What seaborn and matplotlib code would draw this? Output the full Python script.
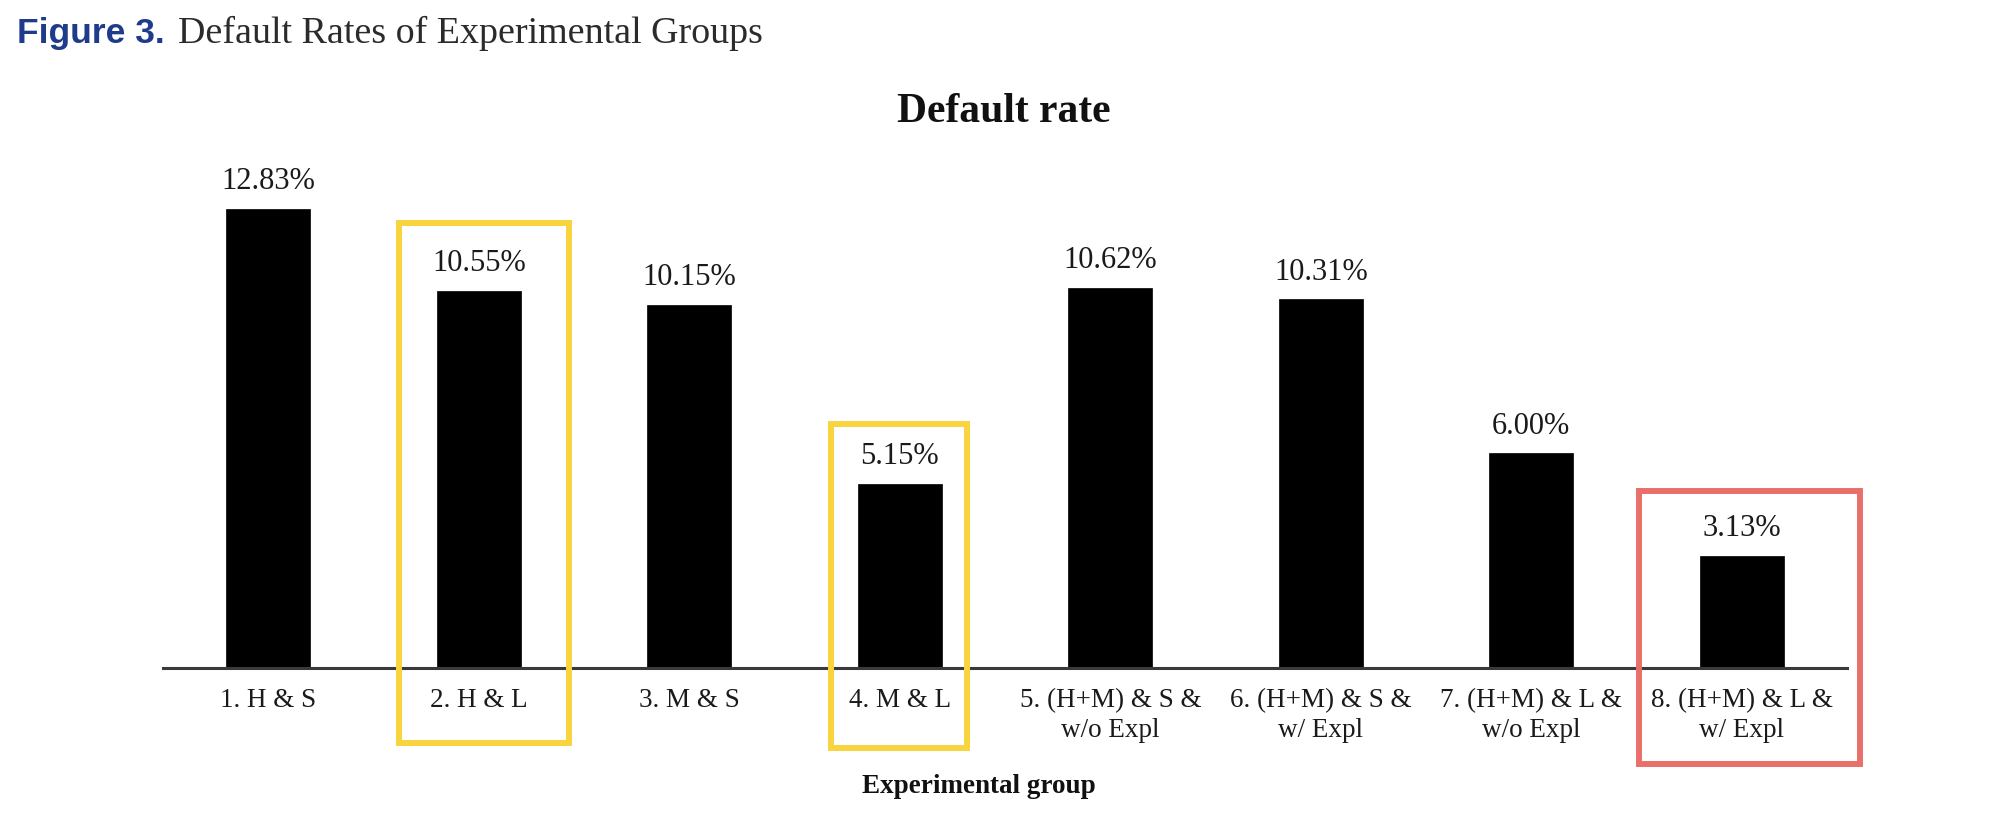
import matplotlib.pyplot as plt
import pandas as pd
import seaborn as sns
from matplotlib.patches import Rectangle

groups = [
    "1. H & S",
    "2. H & L",
    "3. M & S",
    "4. M & L",
    "5. (H+M) & S &\nw/o Expl",
    "6. (H+M) & S &\nw/ Expl",
    "7. (H+M) & L &\nw/o Expl",
    "8. (H+M) & L &\nw/ Expl",
]
default_rates = [12.83, 10.55, 10.15, 5.15, 10.62, 10.31, 6.00, 3.13]

# highlighted groups (index into groups) and box colour
yellow_groups = [1, 3]
red_groups = [7]

YELLOW = "#f8d43e"
RED = "#e9706a"
SERIF = ["Liberation Serif", "DejaVu Serif"]

frame = pd.DataFrame({"group": groups, "rate": default_rates})

sns.set_theme(style="white")
plt.rcParams["font.family"] = SERIF

fig = plt.figure(figsize=(20.02, 8.2), dpi=100)
ax = fig.add_axes([0.08142, 0.18415, 0.84116, 0.61037])

sns.barplot(data=frame, x="group", y="rate", order=groups, color="black",
            width=0.4, saturation=1, edgecolor="black", linewidth=0.5, ax=ax)

ax.set_xlim(-0.5, 7.5)
ax.set_ylim(0, 14)
ax.set_yticks([])
ax.set_ylabel("")
ax.set_xlabel("")
for side in ("top", "right", "left"):
    ax.spines[side].set_visible(False)
ax.spines["bottom"].set_color("#3a3a3a")
ax.spines["bottom"].set_linewidth(2.2)
ax.tick_params(axis="x", length=0, pad=13.5, labelsize=19.5, labelcolor="#1a1a1a")
for lab in ax.get_xticklabels():
    lab.set_family(SERIF)
    lab.set_linespacing(1.3)

for i, v in enumerate(default_rates):
    ax.annotate(f"{v:.2f}%", xy=(i, v), xytext=(0, 15), textcoords="offset points",
                ha="center", va="baseline", fontsize=22, color="#1a1a1a", family=SERIF)

# highlight boxes: (index, colour, left pad, right pad, top pad above bar, bottom)
boxes = [
    (yellow_groups[0], YELLOW, 0.38, 0.43, 1.90, -2.10),
    (yellow_groups[1], YELLOW, 0.325, 0.32, 1.68, -2.24),
    (red_groups[0], RED, 0.49, 0.56, 1.82, -2.69),
]
for idx, colour, lpad, rpad, tpad, bottom in boxes:
    top = default_rates[idx] + tpad
    ax.add_patch(Rectangle((idx - lpad, bottom), lpad + rpad, top - bottom,
                           fill=False, edgecolor=colour, linewidth=4.3,
                           clip_on=False, zorder=5))

fig.text(0.5015, 1 - 122 / 820, "Default rate", ha="center", va="baseline",
         fontsize=30, fontweight="bold", color="#111111", family=SERIF)
fig.text(979 / 2002, 1 - 793 / 820, "Experimental group", ha="center", va="baseline",
         fontsize=19.5, fontweight="bold", color="#111111", family=SERIF)

fig.text(17 / 2002, 1 - 43 / 820, "Figure 3.", ha="left", va="baseline",
         fontsize=25.5, fontweight="bold", color="#1f3c8c",
         family=["Liberation Sans", "DejaVu Sans"])
fig.text(178 / 2002, 1 - 43 / 820, "Default Rates of Experimental Groups", ha="left",
         va="baseline", fontsize=27.4, color="#2b2b2b", family=SERIF)

fig.savefig("out.png", dpi=100, facecolor="white")
plt.close(fig)
